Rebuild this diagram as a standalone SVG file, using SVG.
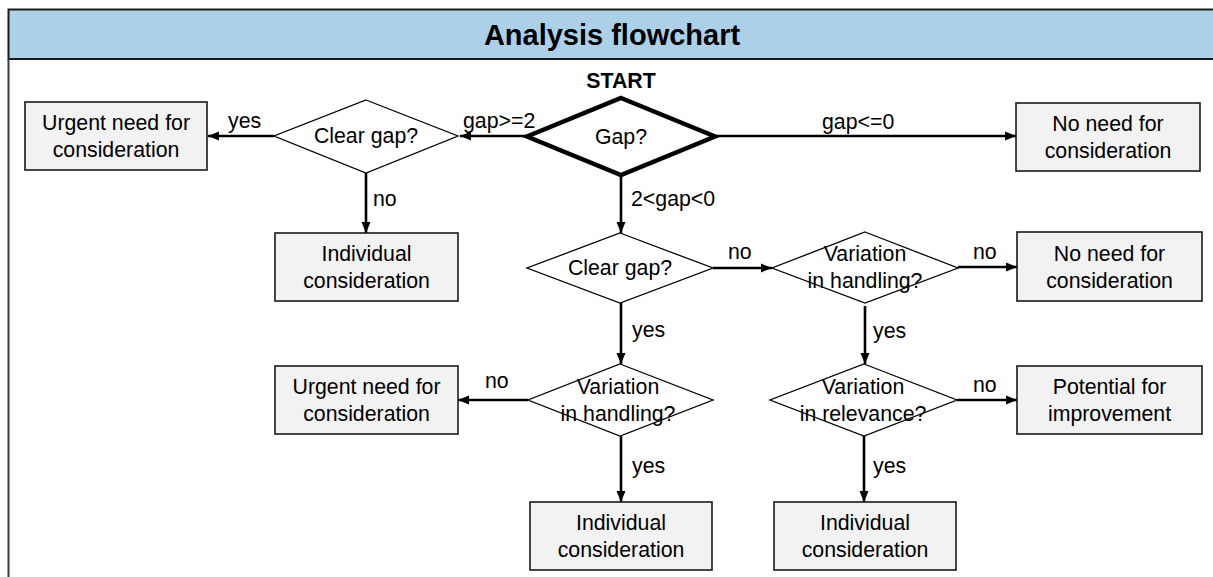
<svg xmlns="http://www.w3.org/2000/svg" width="1213" height="577" viewBox="0 0 1213 577">
  <style>
    .frame { fill: #ffffff; }
    .header { fill: #acd0e8; stroke: #1a1a1a; stroke-width: 2; }
    .edge { stroke: #3a3a3a; stroke-width: 2; fill: none; }
    .box { fill: #f2f2f2; stroke: #1a1a1a; stroke-width: 1.6; }
    .dec { fill: #ffffff; stroke: #000000; stroke-width: 1.3; }
    .start { fill: #ffffff; stroke: #000000; stroke-width: 4.5; stroke-linejoin: miter; }
    .conn { stroke: #000000; stroke-width: 2.6; fill: none; marker-end: url(#arrow); }
    text { font-family: "Liberation Sans", Arial, sans-serif; fill: #000000; }
    .t { font-size: 21.3px; text-anchor: middle; }
    .lbl { font-size: 21.3px; }
    .title { font-size: 29px; font-weight: bold; text-anchor: middle; }
    .bold { font-size: 21.3px; font-weight: bold; text-anchor: middle; }
  </style>
  <defs>
    <marker id="arrow" markerUnits="userSpaceOnUse" markerWidth="12" markerHeight="10" refX="11" refY="5" orient="auto">
      <path d="M0,0.5 L11,5 L0,9.5 z" fill="#000000"/>
    </marker>
  </defs>

  <rect class="frame" x="0" y="0" width="1213" height="577"/>

  <!-- title bar and left frame edge -->
  <g id="title-bar">
    <rect class="header" x="8.5" y="9.5" width="1220" height="49.5"/>
    <text class="title" x="612" y="45">Analysis flowchart</text>
  </g>
  <line class="edge" x1="8.5" y1="59" x2="8.5" y2="577"/>

  <!-- connectors -->
  <g id="connectors">
    <line class="conn" x1="527" y1="136" x2="460" y2="136"/>
    <line class="conn" x1="274" y1="136" x2="208" y2="136"/>
    <line class="conn" x1="366" y1="173" x2="366" y2="233"/>
    <line class="conn" x1="621" y1="176" x2="621" y2="233"/>
    <line class="conn" x1="715" y1="136" x2="1016" y2="136"/>
    <line class="conn" x1="713" y1="268" x2="772" y2="268"/>
    <line class="conn" x1="958" y1="267" x2="1017" y2="267"/>
    <line class="conn" x1="621" y1="303" x2="621" y2="364"/>
    <line class="conn" x1="865" y1="306" x2="865" y2="364"/>
    <line class="conn" x1="528" y1="400" x2="458" y2="400"/>
    <line class="conn" x1="957" y1="400" x2="1017" y2="400"/>
    <line class="conn" x1="621" y1="436" x2="621" y2="502"/>
    <line class="conn" x1="864" y1="436" x2="864" y2="502"/>

    <text class="lbl" x="228" y="128">yes</text>
    <text class="lbl" x="463" y="128">gap&gt;=2</text>
    <text class="lbl" x="822" y="129">gap&lt;=0</text>
    <text class="lbl" x="373" y="206">no</text>
    <text class="lbl" x="631" y="206">2&lt;gap&lt;0</text>
    <text class="lbl" x="728" y="259">no</text>
    <text class="lbl" x="973" y="259">no</text>
    <text class="lbl" x="632" y="337">yes</text>
    <text class="lbl" x="873" y="338">yes</text>
    <text class="lbl" x="485" y="388">no</text>
    <text class="lbl" x="973" y="392">no</text>
    <text class="lbl" x="632" y="473">yes</text>
    <text class="lbl" x="873" y="473">yes</text>
  </g>

  <!-- start decision -->
  <g id="start">
    <text class="bold" x="621" y="88">START</text>
    <polygon class="start" points="621,98 715,136.5 621,175 527,136.5"/>
    <text class="t" x="621" y="144">Gap?</text>
  </g>

  <g id="clear-gap-1">
    <polygon class="dec" points="366,100 458,136 366,173 274,136"/>
    <text class="t" x="366" y="143">Clear gap?</text>
  </g>

  <g id="urgent-1">
    <rect class="box" x="25" y="102" width="182" height="68"/>
    <text class="t" x="116" y="130">Urgent need for</text>
    <text class="t" x="116" y="157">consideration</text>
  </g>

  <g id="individual-1">
    <rect class="box" x="275" y="233" width="183" height="68"/>
    <text class="t" x="366.5" y="261">Individual</text>
    <text class="t" x="366.5" y="288">consideration</text>
  </g>

  <g id="no-need-1">
    <rect class="box" x="1016" y="103" width="184" height="68"/>
    <text class="t" x="1108" y="131">No need for</text>
    <text class="t" x="1108" y="158">consideration</text>
  </g>

  <g id="clear-gap-2">
    <polygon class="dec" points="620,233 713,268 620,303 527,268"/>
    <text class="t" x="620" y="275">Clear gap?</text>
  </g>

  <g id="handling-1">
    <polygon class="dec" points="865,232 958,268 865,303 772,268"/>
    <text class="t" x="865" y="261">Variation</text>
    <text class="t" x="865" y="288">in handling?</text>
  </g>

  <g id="no-need-2">
    <rect class="box" x="1017" y="232" width="185" height="69"/>
    <text class="t" x="1109.5" y="261">No need for</text>
    <text class="t" x="1109.5" y="288">consideration</text>
  </g>

  <g id="handling-2">
    <polygon class="dec" points="620,364 713,400 620,436 528,400"/>
    <text class="t" x="618" y="394">Variation</text>
    <text class="t" x="618" y="421">in handling?</text>
  </g>

  <g id="urgent-2">
    <rect class="box" x="275" y="366" width="183" height="68"/>
    <text class="t" x="366.5" y="394">Urgent need for</text>
    <text class="t" x="366.5" y="421">consideration</text>
  </g>

  <g id="relevance">
    <polygon class="dec" points="864,364 957,400 864,436 770,400"/>
    <text class="t" x="863" y="394">Variation</text>
    <text class="t" x="863" y="421">in relevance?</text>
  </g>

  <g id="potential">
    <rect class="box" x="1017" y="366" width="185" height="68"/>
    <text class="t" x="1109.5" y="394">Potential for</text>
    <text class="t" x="1109.5" y="421">improvement</text>
  </g>

  <g id="individual-2">
    <rect class="box" x="530" y="502" width="182" height="68"/>
    <text class="t" x="621" y="530">Individual</text>
    <text class="t" x="621" y="557">consideration</text>
  </g>

  <g id="individual-3">
    <rect class="box" x="774" y="502" width="182" height="68"/>
    <text class="t" x="865" y="530">Individual</text>
    <text class="t" x="865" y="557">consideration</text>
  </g>
</svg>
